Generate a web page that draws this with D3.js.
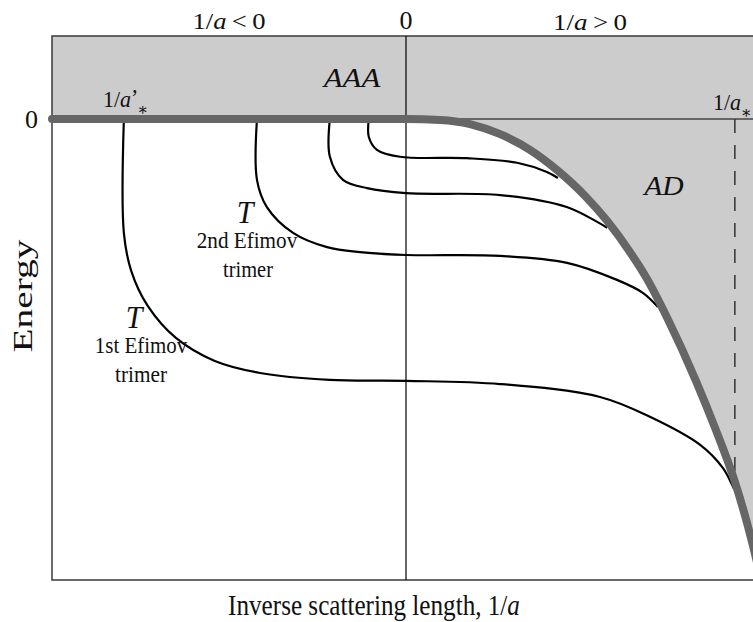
<!DOCTYPE html>
<html>
<head>
<meta charset="utf-8">
<script src="https://cdn.jsdelivr.net/npm/d3@7"></script>
<style>
  body { margin: 0; background: #fff; }
  svg { display: block; font-family: "Liberation Serif", "DejaVu Serif", serif; }
</style>
</head>
<body>
<svg id="chart" width="753" height="622"></svg>
<script>
// threshold of atom + dimer (1/a, energy), flat at zero for 1/a < 0
let dimerX = [-1, 0, 0.096, 0.181, 0.266, 0.350, 0.427, 0.506, 0.568, 0.633, 0.681, 0.737, 0.819, 0.873, 0.929, 0.980, 1.0];
let dimerE = [0, 0, -0.002, -0.011, -0.033, -0.067, -0.111, -0.167, -0.221, -0.289, -0.347, -0.430, -0.568, -0.670, -0.787, -0.925, -0.99];

// Efimov trimer branches, from the deepest to the shallowest
let trimerX = [
  [-0.797, -0.797, -0.776, -0.730, -0.650, -0.540, -0.412, -0.215, 0, 0.266, 0.548, 0.689, 0.831, 0.895, 0.927],
  [-0.421, -0.421, -0.393, -0.319, -0.223, -0.130, 0, 0.266, 0.455, 0.596, 0.669, 0.712],
  [-0.215, -0.215, -0.178, -0.110, 0, 0.266, 0.454, 0.568],
  [-0.105, -0.105, -0.082, -0.017, 0.172, 0.314, 0.398, 0.429]
];
let trimerE = [
  [0, -0.247, -0.330, -0.405, -0.475, -0.525, -0.551, -0.566, -0.568, -0.575, -0.603, -0.646, -0.707, -0.757, -0.803],
  [0, -0.132, -0.191, -0.247, -0.278, -0.289, -0.295, -0.297, -0.312, -0.349, -0.377, -0.408],
  [0, -0.082, -0.132, -0.150, -0.161, -0.165, -0.191, -0.236],
  [0, -0.039, -0.067, -0.082, -0.085, -0.095, -0.115, -0.128]
];

// 1/a*' (first trimer appears) and 1/a* (first trimer meets atom-dimer threshold)
let aStarPrime = -0.797;
let aStar = 0.929;
let topE = 0.18;

let svg = d3.select('#chart');
let x = d3.scaleLinear().domain([-1, 1]).range([52, 760]);
let y = d3.scaleLinear().domain([-1, topE]).range([580, 36]);

let dimer = dimerX.map((d, i) => [d, dimerE[i]]);

// grey continuum region (AAA and AD)
svg.append('path')
  .datum(dimer)
  .attr('fill', '#cccccc')
  .attr('d', d3.area()
    .x(d => x(d[0]))
    .y0(y(topE))
    .y1(d => y(d[1]))
    .curve(d3.curveMonotoneX));

// frame
svg.append('path')
  .attr('d', `M${x(1) + 5},${y(topE)}H${x(-1)}V${y(-1)}H${x(1) + 5}`)
  .attr('fill', 'none')
  .attr('stroke', '#3a3a3a')
  .attr('stroke-width', 1.5);

// axes through zero
svg.append('line')
  .attr('x1', x(0)).attr('x2', x(0))
  .attr('y1', y(topE)).attr('y2', y(-1))
  .attr('stroke', '#000').attr('stroke-width', 1.2);
svg.append('line')
  .attr('x1', x(0)).attr('x2', x(1) + 5)
  .attr('y1', y(0)).attr('y2', y(0))
  .attr('stroke', '#000').attr('stroke-width', 1.2);

// dashed marker at 1/a*
svg.append('line')
  .attr('x1', x(aStar)).attr('x2', x(aStar))
  .attr('y1', y(0)).attr('y2', y(trimerE[0][trimerE[0].length - 1]))
  .attr('stroke', '#333').attr('stroke-width', 1.5)
  .attr('stroke-dasharray', '14,12');

// trimer curves
let line = d3.line()
  .x(d => x(d[0]))
  .y(d => y(d[1]))
  .curve(d3.curveCatmullRom.alpha(0.5));

svg.selectAll('.trimer')
  .data(trimerX.map((xs, k) => xs.map((v, i) => [v, trimerE[k][i]])))
  .enter()
  .append('path')
  .attr('class', 'trimer')
  .attr('d', line)
  .attr('fill', 'none')
  .attr('stroke', '#000')
  .attr('stroke-width', 2.2);

// threshold line
svg.append('path')
  .datum(dimer)
  .attr('d', d3.line().x(d => x(d[0])).y(d => y(d[1])).curve(d3.curveMonotoneX))
  .attr('fill', 'none')
  .attr('stroke', '#666')
  .attr('stroke-width', 8)
  .attr('stroke-linecap', 'round');

// labels: optional w stretches the text horizontally to the given width
let sy = 1.08;
function label(px, py, size, parts, o) {
  o = o || {};
  let t = svg.append('text')
    .attr('font-size', size)
    .attr('text-anchor', o.anchor || 'middle')
    .attr('fill', '#111');
  parts.forEach(p => {
    let s = t.append('tspan').text(p.t);
    if (p.i) s.attr('font-style', 'italic');
    if (p.dx) s.attr('dx', p.dx);
    if (p.dy) s.attr('dy', p.dy);
    if (p.fs) s.attr('font-size', p.fs);
  });
  let sx = o.w ? o.w / t.node().getBBox().width : 1;
  t.attr('transform', `translate(${px},${py}) scale(${sx},${sy})`);
  return t;
}

label(229, 29, 21, [{ t: '1/' }, { t: 'a', i: 1 }, { t: '\u2009<\u20090' }], { w: 73 });
label(x(0), 29, 23, [{ t: '0' }], { w: 13 });
label(590, 30, 21, [{ t: '1/' }, { t: 'a', i: 1 }, { t: '\u2009>\u20090' }], { w: 74 });
label(31.5, 128, 24, [{ t: '0' }], { w: 13 });
label(352, 87, 26, [{ t: 'AAA', i: 1 }], { w: 59 });
label(664, 195, 26, [{ t: 'AD', i: 1 }], { w: 42 });

// 1/a*' on the left, 1/a* on the right
label(103, 107, 22, [{ t: '1/' }, { t: 'a', i: 1 }, { t: '\u2019', dy: -2 }, { t: '\u2217', dx: -1, dy: 9, fs: 16 }], { anchor: 'start' });
label(713, 110, 22, [{ t: '1/' }, { t: 'a', i: 1 }, { t: '\u2217', dy: 7, fs: 16 }], { anchor: 'start' });

label(245, 223, 30, [{ t: 'T', i: 1 }]);
label(247, 248, 21, [{ t: '2nd Efimov' }], { w: 101 });
label(248, 277, 21, [{ t: 'trimer' }], { w: 50 });
label(134, 328, 30, [{ t: 'T', i: 1 }]);
label(141, 353, 21, [{ t: '1st Efimov' }], { w: 93 });
label(141, 382, 21, [{ t: 'trimer' }], { w: 52 });

label(374, 615, 28, [{ t: 'Inverse scattering length, 1/' }, { t: 'a', i: 1 }], { w: 292 });

svg.append('text')
  .attr('transform', 'translate(32,296) rotate(-90)')
  .attr('text-anchor', 'middle')
  .attr('font-size', 28)
  .attr('fill', '#111')
  .attr('textLength', 113)
  .attr('lengthAdjust', 'spacingAndGlyphs')
  .text('Energy');
</script>
</body>
</html>
